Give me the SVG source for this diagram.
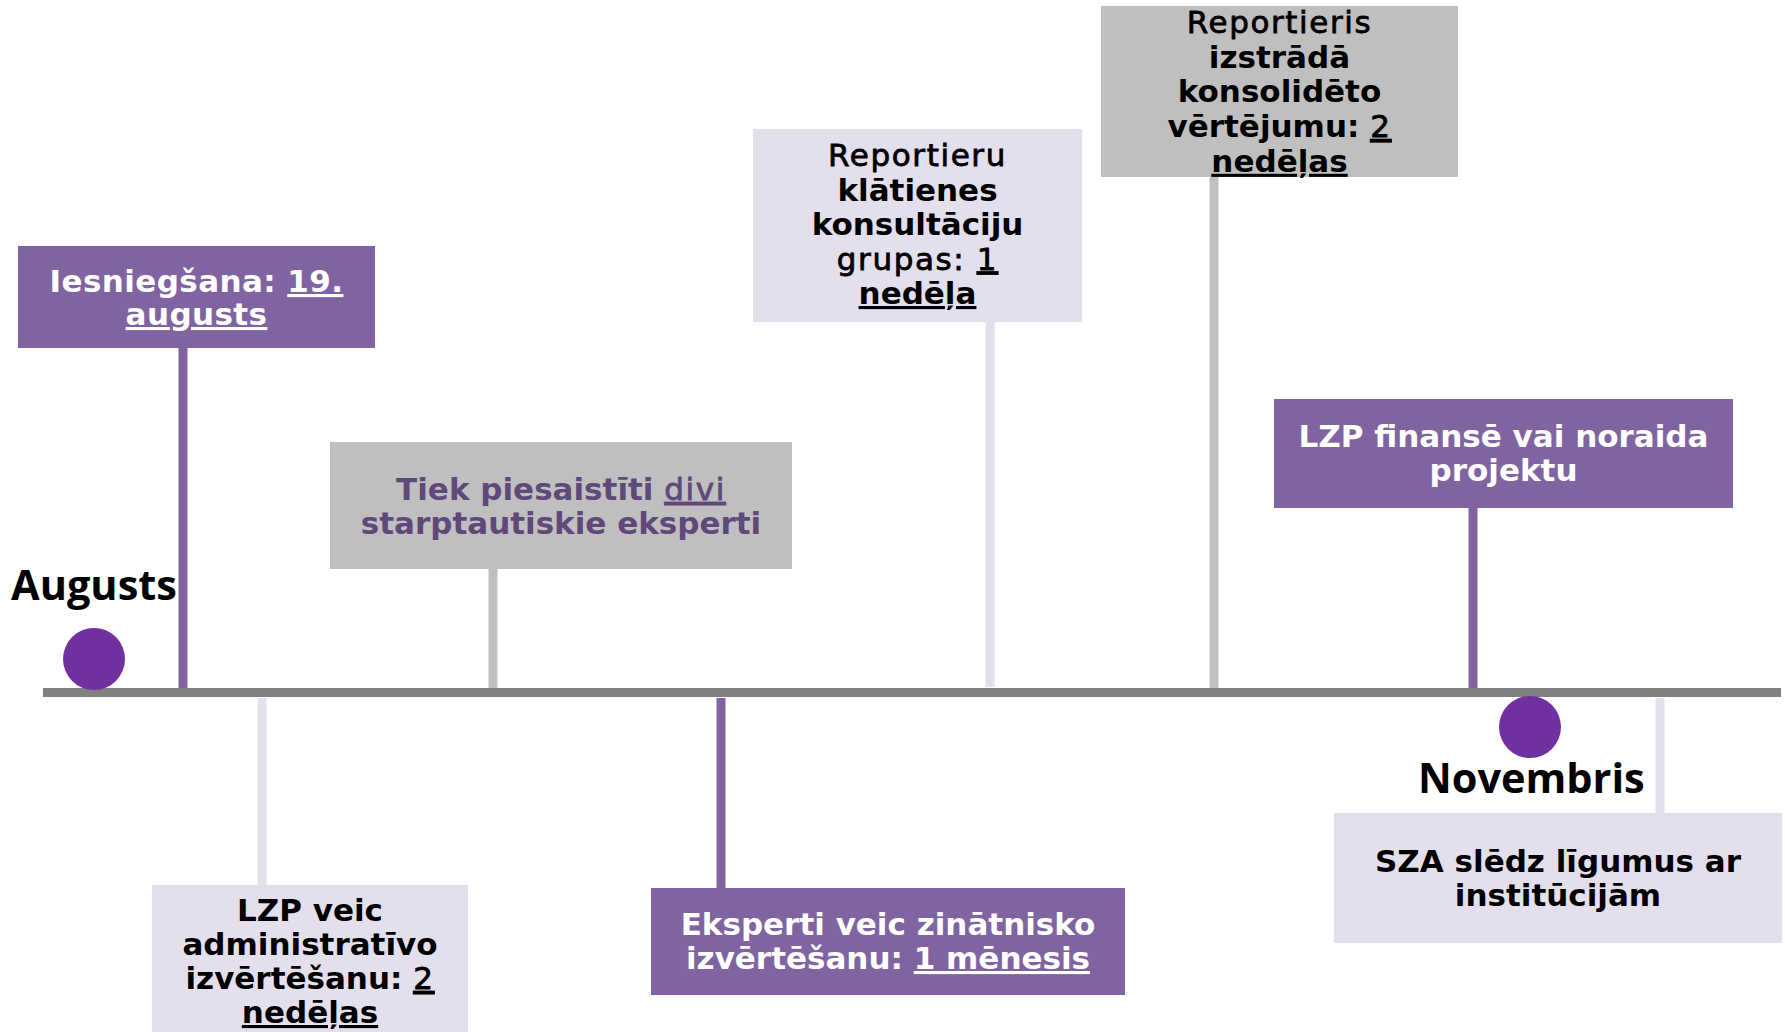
<svg xmlns="http://www.w3.org/2000/svg" width="1785" height="1032" viewBox="0 0 1785 1032">
<style>
.box-p{fill:#8064A2}
.box-l{fill:#E4DFEC}
.box-g{fill:#BFBFBF}
.t{font-family:"DejaVu Sans","Verdana",sans-serif;font-size:31px;font-weight:bold;text-anchor:middle}
.w{fill:#FFFFFF}
.k{fill:#000000}
.d{fill:#5F497A}
.lt{font-weight:normal;letter-spacing:1.6px;stroke-width:0.8px}
.k .lt{stroke:#000000}
.d .lt{stroke:#5F497A}
.u{text-decoration:underline}
.month{font-family:"Open Sans",sans-serif;font-size:41.5px;font-weight:bold;fill:#000}
.dot{fill:#7030A0}
</style>
<rect width="1785" height="1032" fill="#FFFFFF"/>
<g id="connectors">
<rect x="43" y="688" width="1738" height="9" fill="#808080"/>
<rect x="178.5" y="348" width="9" height="340" fill="#8064A2"/>
<rect x="488.5" y="569" width="9" height="119" fill="#BFBFBF"/>
<rect x="985.5" y="322" width="9" height="365" fill="#E4DFEC"/>
<rect x="1209.5" y="177" width="9" height="511" fill="#BFBFBF"/>
<rect x="1468.5" y="508" width="9" height="180" fill="#8064A2"/>
<rect x="257.5" y="698" width="9" height="187" fill="#E4DFEC"/>
<rect x="716.5" y="698" width="9" height="190" fill="#8064A2"/>
<rect x="1655.5" y="698" width="9" height="115" fill="#E4DFEC"/>
</g>
<g id="augusts">
<circle class="dot" cx="94" cy="659" r="31"/>
<text class="month" x="11" y="600">Augusts</text>
</g>
<g id="novembris">
<circle class="dot" cx="1530" cy="727" r="31"/>
<text class="month" x="1418" y="793">Novembris</text>
</g>
<g id="n1">
<rect class="box-p" x="18" y="246" width="357" height="102"/>
<text class="t w" letter-spacing="0.4"><tspan x="196.5" y="292">Iesniegšana: </tspan><tspan class="u">19.</tspan><tspan x="196.5" y="325" class="u">augusts</tspan></text>
</g>
<g id="n2">
<rect class="box-g" x="330" y="442" width="462" height="127"/>
<text class="t d"><tspan x="561" y="500">Tiek piesaistīti </tspan><tspan class="u lt">divi</tspan><tspan x="561" y="534">starptautiskie eksperti</tspan></text>
</g>
<g id="n3">
<rect class="box-l" x="753" y="129" width="329" height="193"/>
<text class="t k"><tspan x="917.5" y="166" class="lt">Reportieru</tspan><tspan x="917.5" y="200.5">klātienes</tspan><tspan x="917.5" y="235">konsultāciju</tspan><tspan x="917.5" y="269.5" class="lt">grupas: </tspan><tspan class="lt u">1</tspan><tspan x="917.5" y="304" class="u">nedēļa</tspan></text>
</g>
<g id="n4">
<rect class="box-g" x="1101" y="6" width="357" height="171"/>
<text class="t k"><tspan x="1279.5" y="33" class="lt">Reportieris</tspan><tspan x="1279.5" y="67.7">izstrādā</tspan><tspan x="1279.5" y="102.4">konsolidēto</tspan><tspan x="1279.5" y="137.1">vērtējumu: </tspan><tspan class="lt u">2</tspan><tspan x="1279.5" y="171.8" class="u">nedēļas</tspan></text>
</g>
<g id="n5">
<rect class="box-p" x="1274" y="399" width="459" height="109"/>
<text class="t w"><tspan x="1503.5" y="447">LZP finansē vai noraida</tspan><tspan x="1503.5" y="481">projektu</tspan></text>
</g>
<g id="n6">
<rect class="box-l" x="152" y="885" width="316" height="150"/>
<text class="t k"><tspan x="310" y="921">LZP veic</tspan><tspan x="310" y="955">administratīvo</tspan><tspan x="310" y="989">izvērtēšanu: </tspan><tspan class="lt u">2</tspan><tspan x="310" y="1023" class="u">nedēļas</tspan></text>
</g>
<g id="n7">
<rect class="box-p" x="651" y="888" width="474" height="107"/>
<text class="t w"><tspan x="888" y="935">Eksperti veic zinātnisko</tspan><tspan x="888" y="969">izvērtēšanu: </tspan><tspan class="u">1 mēnesis</tspan></text>
</g>
<g id="n8">
<rect class="box-l" x="1334" y="813" width="448" height="130"/>
<text class="t k"><tspan x="1558" y="872">SZA slēdz līgumus ar</tspan><tspan x="1558" y="906">institūcijām</tspan></text>
</g>
</svg>
